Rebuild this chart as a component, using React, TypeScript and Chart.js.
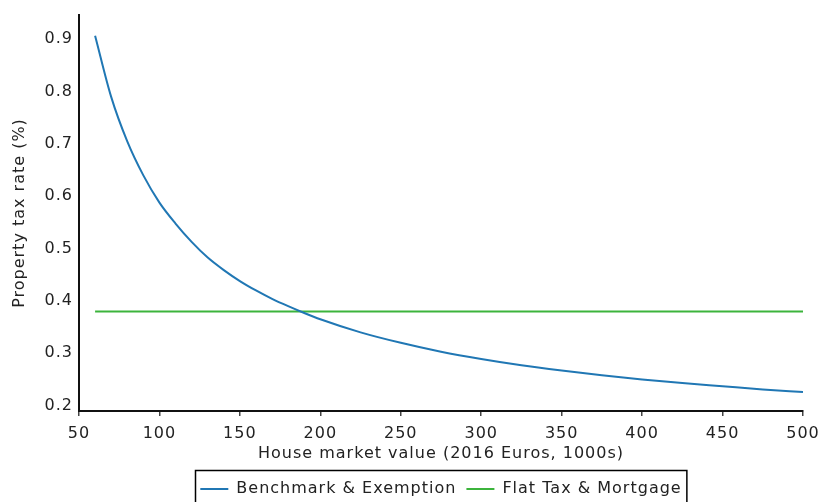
import React, { useEffect, useRef } from "react";
import { Chart, registerables } from "chart.js";

Chart.register(...registerables);

// House market value (2016 Euros, 1000s)
const houseValues = [
  60, 70, 80, 90, 100, 110, 120, 130, 140, 150, 160, 170, 180, 190, 200,
  225, 250, 275, 300, 325, 350, 375, 400, 425, 450, 475, 500,
];
// Benchmark & Exemption property tax rate (%)
const benchmarkRates = [
  0.907, 0.79, 0.705, 0.64, 0.588, 0.548, 0.513, 0.483, 0.459, 0.438, 0.42,
  0.404, 0.39, 0.377, 0.365, 0.34, 0.32, 0.303, 0.289, 0.277, 0.267, 0.258,
  0.25, 0.243, 0.237, 0.231, 0.226,
];
// Flat Tax & Mortgage property tax rate (%)
const flatValues = [60, 500];
const flatRates = [0.38, 0.38];

const seriesNames = ["Benchmark & Exemption", "Flat Tax & Mortgage"];
const xTitle = "House market value (2016 Euros, 1000s)";
const yTitle = "Property tax rate (%)";

const FONT = "'DejaVu Sans', Verdana, sans-serif";
const TEXT = "#222";

const spacing = {
  id: "spacing",
  beforeLayout(chart: any) {
    chart.ctx.letterSpacing = "1px";
  },
  beforeDraw(chart: any) {
    chart.ctx.letterSpacing = "1px";
  },
};

const legendBox = {
  id: "legendBox",
  afterDraw(chart: any) {
    const lg = chart.legend;
    const hb = lg && lg.legendHitBoxes;
    if (!hb || !hb.length) return;
    const left = hb[0].left - 5;
    const last = hb[hb.length - 1];
    const right = last.left + last.width + 5;
    const cy = hb[0].top + hb[0].height / 2;
    const ctx = chart.ctx;
    ctx.save();
    ctx.strokeStyle = "#000";
    ctx.lineWidth = 1.5;
    ctx.strokeRect(Math.round(left) + 0.5, Math.round(cy - 19) + 0.5, right - left, 60);
    ctx.restore();
  },
};

export default function App() {
  const ref = useRef<HTMLCanvasElement | null>(null);

  useEffect(() => {
    document.body.style.margin = "0";
    if (!ref.current) return;
    const chart = new Chart(ref.current, {
      type: "line",
      data: {
        datasets: [
          {
            label: seriesNames[0],
            data: houseValues.map((x, i) => ({ x, y: benchmarkRates[i] })),
            borderColor: "#2077b4",
            backgroundColor: "#2077b4",
            borderWidth: 2,
            pointRadius: 0,
            cubicInterpolationMode: "monotone",
          },
          {
            label: seriesNames[1],
            data: flatValues.map((x, i) => ({ x, y: flatRates[i] })),
            borderColor: "#3cb43c",
            backgroundColor: "#3cb43c",
            borderWidth: 2,
            pointRadius: 0,
          },
        ],
      },
      options: {
        animation: false,
        responsive: false,
        maintainAspectRatio: false,
        layout: { padding: { left: 0, right: 19, top: 15, bottom: -5 } },
        plugins: {
          tooltip: { enabled: false },
          legend: {
            position: "bottom",
            fullSize: false,
            labels: {
              font: { family: FONT, size: 16 },
              color: TEXT,
              usePointStyle: true,
              pointStyle: "line",
              pointStyleWidth: 28,
              boxHeight: 16,
              padding: 10,
            },
          },
        },
        scales: {
          x: {
            type: "linear",
            min: 50,
            max: 500,
            afterFit: (s: any) => {
              s.height = 60;
              s.paddingRight = 0;
              s.paddingLeft = 0;
            },
            ticks: {
              stepSize: 50,
              maxRotation: 0,
              autoSkip: false,
              font: { family: FONT, size: 16 },
              color: TEXT,
              padding: 8,
            },
            grid: {
              drawOnChartArea: false,
              drawTicks: true,
              tickLength: 5,
              color: "#444",
              lineWidth: 1.5,
            },
            border: { display: true, color: "#111", width: 2 },
            title: {
              display: true,
              text: xTitle,
              font: { family: FONT, size: 16 },
              color: TEXT,
              padding: { top: 0, bottom: 8 },
            },
          },
          y: {
            type: "linear",
            min: 0.1897,
            max: 0.9465,
            afterFit: (s: any) => {
              s.width = 79;
              s.paddingTop = 0;
              s.paddingBottom = 0;
            },
            ticks: {
              stepSize: 0.1,
              includeBounds: false,
              font: { family: FONT, size: 16 },
              color: TEXT,
              padding: 6,
              callback: (v: any) => Number(v).toFixed(1),
            },
            grid: { display: false, drawTicks: false },
            border: { display: true, color: "#111", width: 2 },
            title: {
              display: true,
              text: yTitle,
              font: { family: FONT, size: 16 },
              color: TEXT,
              padding: { top: 10, bottom: 0 },
            },
          },
        },
      },
      plugins: [spacing, legendBox],
    });
    return () => chart.destroy();
  }, []);

  return (
    <div style={{ width: 822, height: 502, position: "relative", overflow: "hidden" }}>
      <canvas ref={ref} width={822} height={502} style={{ display: "block" }} />
    </div>
  );
}
